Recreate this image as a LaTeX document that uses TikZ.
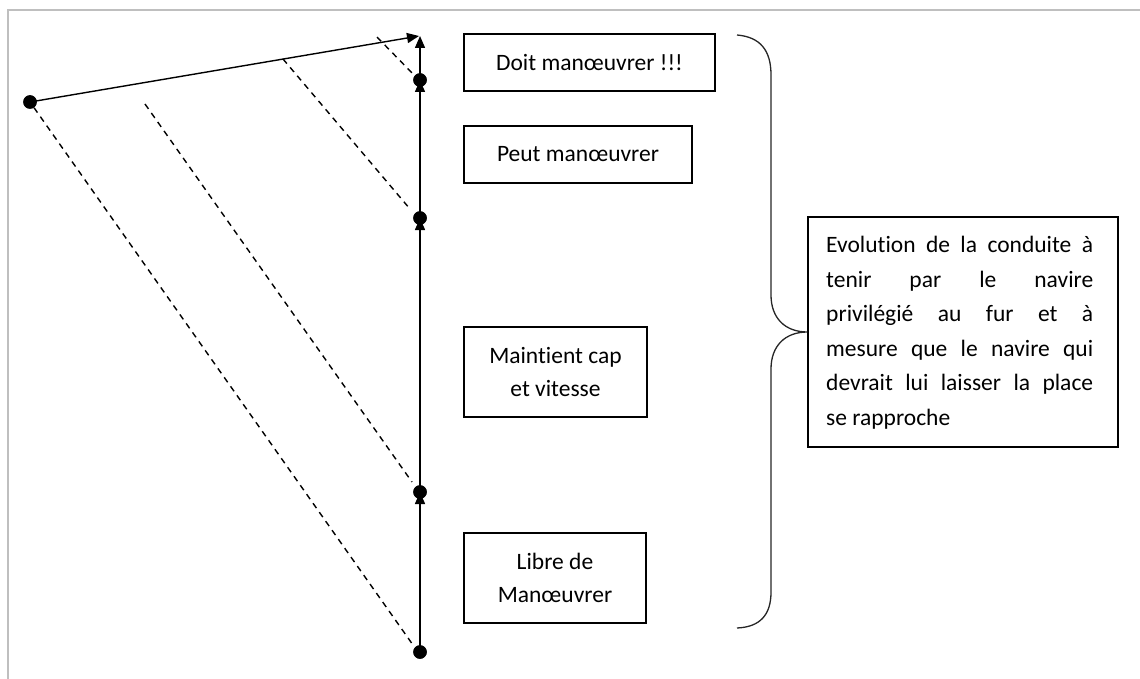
\documentclass[tikz,border=0pt]{standalone}
\usepackage{fontspec}
\setmainfont{Carlito}[Ligatures=NoCommon]
\usetikzlibrary{arrows.meta}
\begin{document}
\begin{tikzpicture}[x=1pt,y=-1pt,
  dot/.style={circle,fill=black,inner sep=0pt,minimum size=13.5pt},
  track/.style={line width=1.4pt,-{Triangle[length=12pt,width=10pt]}},
  sight/.style={line width=1.4pt,dash pattern=on 6pt off 5pt},
  labelbox/.style={draw,line width=1.2pt,inner sep=0pt,align=center,
    font=\fontsize{23.5}{33}\selectfont},
  notebox/.style={draw,line width=1.2pt,inner sep=0pt}]
\useasboundingbox (0,0) rectangle (1140,679);
% outer frame
\draw[gray!50,line width=1.6pt] (8,690) -- (8,10) -- (1150,10);

% positions along the track
\coordinate (tip) at (419,36);
\node[dot] (p0) at (30,102) {};
\node[dot] (d0) at (420,652) {};
\node[dot] (d1) at (420,492) {};
\node[dot] (d2) at (420,218) {};
\node[dot] (d3) at (420,80) {};

% lines of sight
\coordinate (s1) at (145,104);
\coordinate (s2) at (283,59);
\coordinate (s3) at (377,37);
\coordinate (e0) at (413,645);
\coordinate (e1) at (412,482);
\coordinate (e2) at (410,209);
\coordinate (e3) at (412,73);
\draw[sight] (p0) -- (e0);
\draw[sight] (s1) -- (e1);
\draw[sight] (s2) -- (e2);
\draw[sight] (s3) -- (e3);

% relative motion and track
\draw[track] (p0.center) -- (tip);
\draw[track] (d0.center) -- (d1.center);
\draw[track] (d1.center) -- (d2.center);
\draw[track] (d2.center) -- (d3.center);
\draw[track] (d3.center) -- (420,36);
\node[dot] at (d1) {};
\node[dot] at (d2) {};
\node[dot] at (d3) {};
\node[dot] at (p0) {};
\node[dot] at (d0) {};

% stages
\node[labelbox,minimum width=251pt,minimum height=57pt] (b1) at (589.5,62.5) {Doit manœuvrer !!!};
\node[labelbox,minimum width=228pt,minimum height=57pt] (b2) at (578,154.5) {Peut manœuvrer};
\node[labelbox,minimum width=183pt,minimum height=90pt] (b3) at (555.5,372) {Maintient cap\\et vitesse};
\node[labelbox,minimum width=182pt,minimum height=90pt] (b4) at (555,578) {Libre de\\Manœuvrer};

% brace and note
\node[notebox,minimum width=310pt,minimum height=230pt] (note) at (963,332) {};
\node[font=\fontsize{23.5}{34.6}\selectfont,anchor=north west,inner sep=0pt,align=left] (notetext) at (826,236)
  {\makebox[267pt][s]{Evolution de la conduite à}\\
   \makebox[267pt][s]{tenir par le navire}\\
   \makebox[267pt][s]{privilégié au fur et à}\\
   \makebox[267pt][s]{mesure que le navire qui}\\
   \makebox[267pt][s]{devrait lui laisser la place}\\
   se rapproche};
\draw[line width=1.3pt,gray!30!black] (737,35)
  .. controls (760,37) and (771,50) .. (771,75) -- (771,295)
  .. controls (771,318) and (785,332) .. (note.west)
  .. controls (785,332) and (771,346) .. (771,369) -- (771,592)
  .. controls (771,615) and (760,627) .. (737,628);
\end{tikzpicture}
\end{document}
